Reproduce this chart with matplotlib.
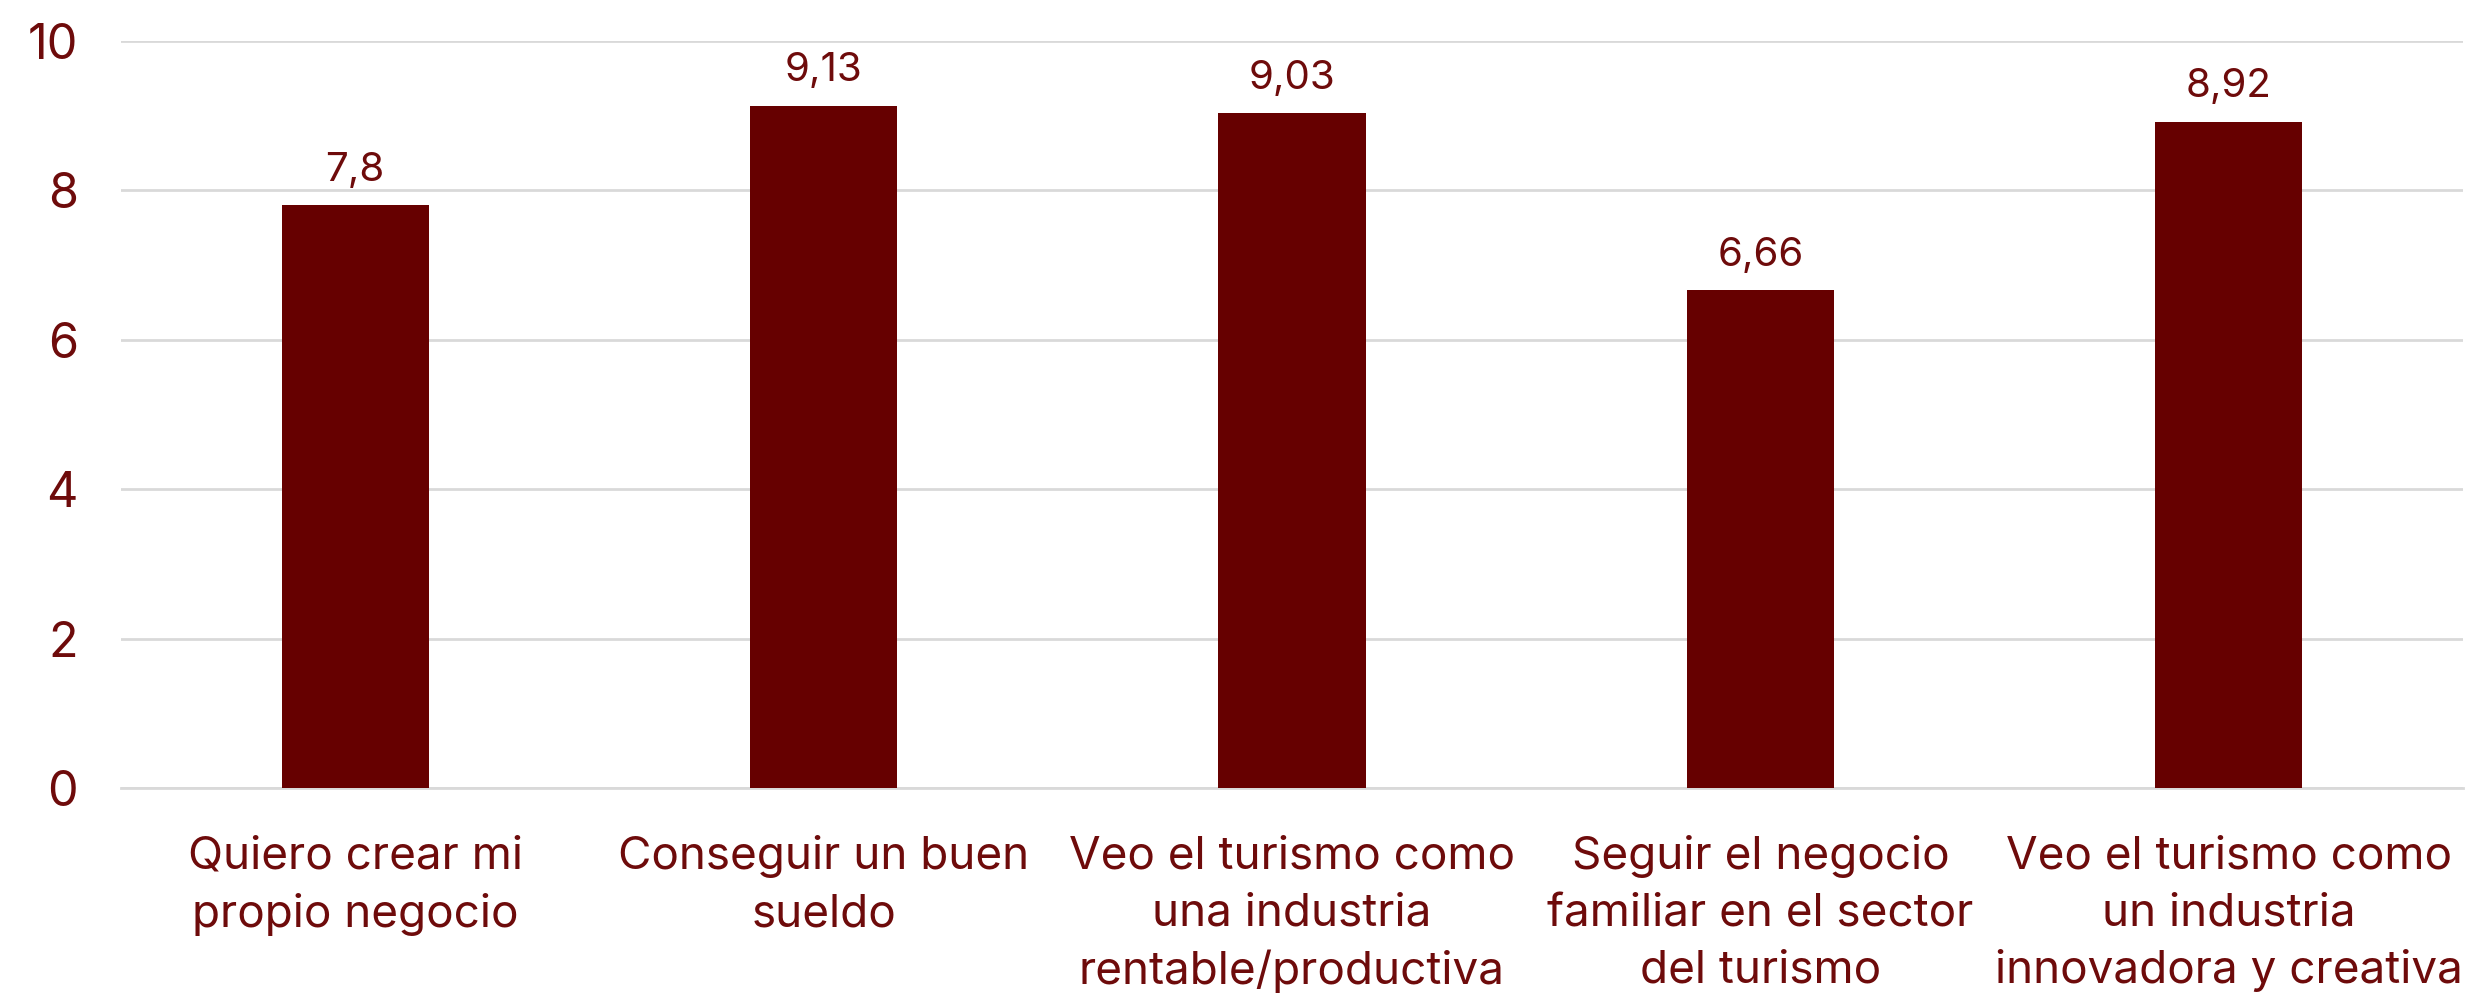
import matplotlib.pyplot as plt

categories = [
    "Quiero crear mi\npropio negocio",
    "Conseguir un buen\nsueldo",
    "Veo el turismo como\nuna industria\nrentable/productiva",
    "Seguir el negocio\nfamiliar en el sector\ndel turismo",
    "Veo el turismo como\nun industria\ninnovadora y creativa",
]
values = [7.8, 9.13, 9.03, 6.66, 8.92]
value_labels = ["7,8", "9,13", "9,03", "6,66", "8,92"]
yticks = [0, 2, 4, 6, 8, 10]

bar_color = "#660000"
text_color = "#6e0b0b"

plt.rcParams["font.family"] = ["Inter", "DejaVu Sans"]

fig = plt.figure(figsize=(24.67, 9.97), dpi=100)
ax = fig.add_axes([0.049, 0.2096, 0.9494, 0.7493])

x = range(len(categories))
bars = ax.bar(x, values, width=0.314, color=bar_color, zorder=3)

for rect, lab in zip(bars, value_labels):
    ax.annotate(lab, (rect.get_x() + rect.get_width() / 2, rect.get_height()),
                xytext=(0, 12), textcoords="offset points",
                ha="center", va="bottom", fontsize=29, color=text_color)

ax.set_xlim(-0.5, len(categories) - 0.5)
ax.set_ylim(0, 10)
ax.set_yticks(yticks)
ax.set_xticks(list(x))
ax.set_xticklabels(categories, fontsize=33, color=text_color, linespacing=1.45)
ax.tick_params(axis="y", labelsize=35, labelcolor=text_color, length=0, pad=31)
ax.tick_params(axis="x", length=0, pad=34)

ax.grid(axis="y", color="#d9d9d9", linewidth=2, zorder=0)
for side in ["top", "right", "left"]:
    ax.spines[side].set_visible(False)
ax.spines["bottom"].set_color("#d9d9d9")
ax.spines["bottom"].set_linewidth(2)

fig.savefig("out.png", dpi=100)
